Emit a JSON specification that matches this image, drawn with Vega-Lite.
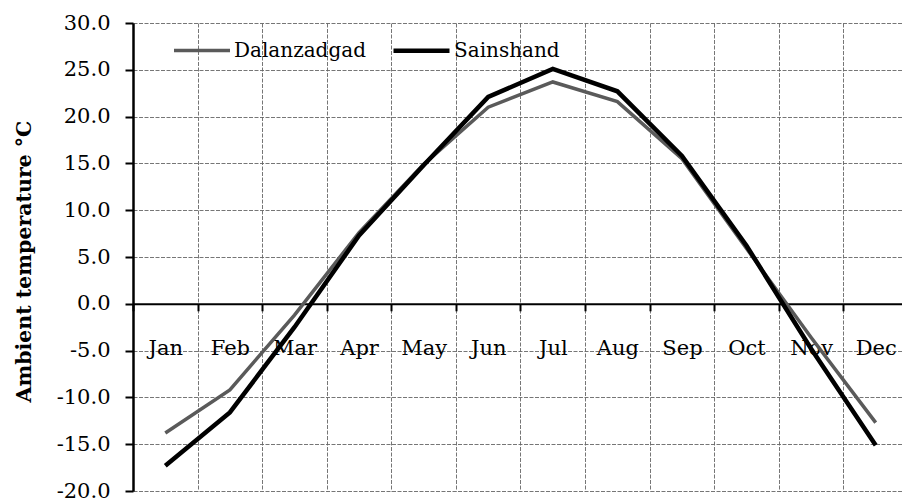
{
  "$schema": "https://vega.github.io/schema/vega-lite/v6.json",
  "autosize": {"type": "none"},
  "padding": {"left": 133, "top": 23, "right": 0, "bottom": 12},
  "width": 769,
  "height": 468,
  "background": "white",
  "config": {
    "view": {"stroke": null},
    "font": "DejaVu Serif"
  },
  "data": {
    "values": [
      {"month": "Jan", "station": "Dalanzadgad", "temp": -13.8},
      {"month": "Feb", "station": "Dalanzadgad", "temp": -9.2},
      {"month": "Mar", "station": "Dalanzadgad", "temp": -1.2},
      {"month": "Apr", "station": "Dalanzadgad", "temp": 7.6},
      {"month": "May", "station": "Dalanzadgad", "temp": 14.9},
      {"month": "Jun", "station": "Dalanzadgad", "temp": 21.0},
      {"month": "Jul", "station": "Dalanzadgad", "temp": 23.7},
      {"month": "Aug", "station": "Dalanzadgad", "temp": 21.6},
      {"month": "Sep", "station": "Dalanzadgad", "temp": 15.5},
      {"month": "Oct", "station": "Dalanzadgad", "temp": 5.9},
      {"month": "Nov", "station": "Dalanzadgad", "temp": -3.6},
      {"month": "Dec", "station": "Dalanzadgad", "temp": -12.7},
      {"month": "Jan", "station": "Sainshand", "temp": -17.3},
      {"month": "Feb", "station": "Sainshand", "temp": -11.6},
      {"month": "Mar", "station": "Sainshand", "temp": -2.5},
      {"month": "Apr", "station": "Sainshand", "temp": 7.3},
      {"month": "May", "station": "Sainshand", "temp": 14.8},
      {"month": "Jun", "station": "Sainshand", "temp": 22.1},
      {"month": "Jul", "station": "Sainshand", "temp": 25.1},
      {"month": "Aug", "station": "Sainshand", "temp": 22.7},
      {"month": "Sep", "station": "Sainshand", "temp": 15.8},
      {"month": "Oct", "station": "Sainshand", "temp": 6.2},
      {"month": "Nov", "station": "Sainshand", "temp": -4.8},
      {"month": "Dec", "station": "Sainshand", "temp": -15.1}
    ]
  },
  "mark": {"type": "line", "strokeJoin": "miter"},
  "encoding": {
    "x": {
      "field": "month",
      "type": "nominal",
      "sort": ["Jan", "Feb", "Mar", "Apr", "May", "Jun", "Jul", "Aug", "Sep", "Oct", "Nov", "Dec"],
      "scale": {"type": "band", "paddingInner": 0, "paddingOuter": 0, "range": [0, 775]},
      "axis": {
        "title": null,
        "orient": "bottom",
        "offset": -187.2,
        "tickBand": "extent",
        "labelAngle": 0,
        "labelFont": "DejaVu Serif",
        "labelFontSize": 21,
        "labelColor": "#000000",
        "labelPadding": 27,
        "domainColor": "#000000",
        "domainWidth": 2,
        "tickColor": "#000000",
        "tickWidth": 2,
        "tickSize": 7,
        "grid": true,
        "gridColor": "#666666",
        "gridWidth": 0.9,
        "gridDash": [4, 1.5]
      }
    },
    "y": {
      "field": "temp",
      "type": "quantitative",
      "scale": {"domain": [-20, 30], "nice": false, "zero": false},
      "axis": {
        "title": "Ambient temperature °C",
        "titleFont": "DejaVu Serif",
        "titleFontWeight": "bold",
        "titleFontSize": 20.5,
        "titleColor": "#000000",
        "titleX": -109,
        "titleY": 238,
        "titleAngle": 270,
        "titleAlign": "center",
        "titleBaseline": "middle",
        "values": [-20, -15, -10, -5, 0, 5, 10, 15, 20, 25, 30],
        "labelExpr": "replace(format(datum.value, '.1f'), '\u2212', '-')",
        "labelFont": "DejaVu Serif",
        "labelFontSize": 21,
        "labelColor": "#000000",
        "labelPadding": 15,
        "domainColor": "#000000",
        "domainWidth": 2.5,
        "tickColor": "#000000",
        "tickWidth": 2,
        "tickSize": 8,
        "grid": true,
        "gridColor": "#666666",
        "gridWidth": 0.9,
        "gridDash": [4, 1.5]
      }
    },
    "color": {
      "field": "station",
      "type": "nominal",
      "scale": {"domain": ["Dalanzadgad", "Sainshand"], "range": ["#5a5a5a", "#000000"]},
      "legend": {
        "title": null,
        "orient": "none",
        "legendX": 39,
        "legendY": -3,
        "direction": "horizontal",
        "padding": 0,
        "symbolType": "stroke",
        "symbolSize": 3136,
        "symbolStrokeWidth": 4,
        "labelFont": "DejaVu Serif",
        "labelFontSize": 20,
        "labelColor": "#000000",
        "labelOffset": 2,
        "columnPadding": 18,
        "labelLimit": 300
      }
    },
    "strokeWidth": {
      "field": "station",
      "type": "nominal",
      "scale": {"domain": ["Dalanzadgad", "Sainshand"], "range": [3.5, 4.5]},
      "legend": null
    }
  }
}
